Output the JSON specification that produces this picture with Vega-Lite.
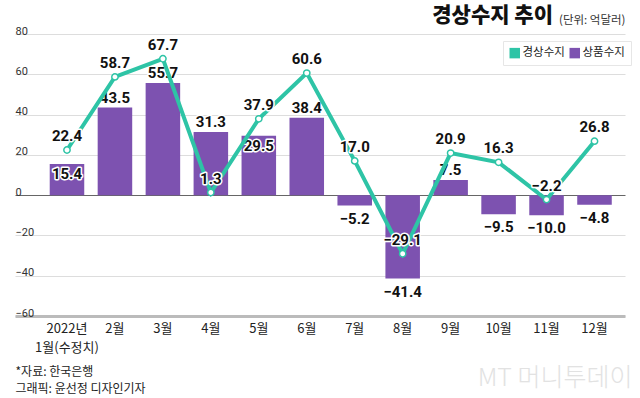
{
  "$schema": "https://vega.github.io/schema/vega-lite/v6.json",
  "autosize": {"type": "none"},
  "width": 610,
  "height": 282,
  "padding": {"left": 15, "top": 34, "right": 15, "bottom": 82},
  "background": "white",
  "config": {"view": {"stroke": null}, "font": "Noto Sans CJK KR"},
  "title": {
    "text": "경상수지 추이",
    "anchor": "end",
    "frame": "group",
    "fontSize": 21,
    "fontWeight": 900,
    "font": "Noto Sans CJK KR",
    "color": "#111",
    "dx": -72,
    "dy": 16,
    "offset": 4
  },
  "data": {
    "values": [
      {"month": "2022년|1월(수정치)", "current": 22.4, "goods": 15.4},
      {"month": "2월", "current": 58.7, "goods": 43.5},
      {"month": "3월", "current": 67.7, "goods": 55.7},
      {"month": "4월", "current": 1.3, "goods": 31.3},
      {"month": "5월", "current": 37.9, "goods": 29.5},
      {"month": "6월", "current": 60.6, "goods": 38.4},
      {"month": "7월", "current": 17.0, "goods": -5.2},
      {"month": "8월", "current": -29.1, "goods": -41.4},
      {"month": "9월", "current": 20.9, "goods": 7.5},
      {"month": "10월", "current": 16.3, "goods": -9.5},
      {"month": "11월", "current": -2.2, "goods": -10.0},
      {"month": "12월", "current": 26.8, "goods": -4.8}
    ]
  },
  "encoding": {
    "x": {
      "field": "month",
      "type": "nominal",
      "sort": null,
      "scale": {"paddingInner": 0.28, "paddingOuter": 0.5, "align": 0.724},
      "axis": {
        "title": ["*자료: 한국은행", "그래픽: 윤선정 디자인기자"],
        "titleAnchor": "start",
        "titleAlign": "left",
        "titleX": 0,
        "titleY": 59,
        "titleBaseline": "alphabetic",
        "titleFontSize": 12,
        "titleFontWeight": "normal",
        "titleLineHeight": 17.5,
        "titleColor": "#222",
        "titleFont": "Noto Sans CJK KR",
        "labelAngle": 0,
        "labelFontSize": 13,
        "labelColor": "#222",
        "labelFont": "Noto Sans CJK KR",
        "labelPadding": 6,
        "labelBaseline": "top",
        "labelLineHeight": 19,
        "labelExpr": "split(datum.label, '|')",
        "ticks": false,
        "tickSize": 0,
        "domainColor": "#bbbbbb",
        "domainWidth": 3
      }
    }
  },
  "resolve": {"scale": {"y": "independent"}},
  "layer": [
    {
      "layer": [
        {
          "mark": {"type": "bar", "opacity": 1},
          "encoding": {
            "y": {
              "field": "goods",
              "type": "quantitative",
              "scale": {"domain": [-60, 80], "nice": false, "zero": false},
              "axis": {
                "values": [-60, -40, -20, 0, 20, 40, 60, 80],
                "title": "(단위: 억달러)",
                "titleAngle": 0,
                "titleX": 610,
                "titleY": -11,
                "titleAlign": "right",
                "titleBaseline": "alphabetic",
                "titleFontSize": 11.5,
                "titleFontWeight": "normal",
                "titleColor": "#333",
                "titleFont": "Noto Sans CJK KR",
                "domain": false,
                "ticks": false,
                "tickSize": 0,
                "labelAlign": "left",
                "labelBaseline": "alphabetic",
                "labelPadding": 0,
                "labelDy": -4,
                "labelFlush": false,
                "labelFontSize": 11,
                "labelColor": "#333",
                "labelFont": "Roboto, sans-serif",
                "grid": true,
                "gridColor": {"condition": {"test": "datum.value === 0", "value": "#666666"}, "value": "#dddddd"},
                "gridWidth": 1
              }
            },
            "color": {
              "datum": "상품수지",
              "type": "nominal",
              "scale": {"domain": ["경상수지", "상품수지"], "range": ["#2ec4a6", "#7d52b0"]},
              "legend": {
                "orient": "none",
                "legendX": 488,
                "legendY": 7,
                "direction": "horizontal",
                "title": null,
                "symbolType": "square",
                "symbolSize": 110,
                "symbolStrokeWidth": 0,
                "labelFontSize": 11.5,
                "labelFont": "Noto Sans CJK KR",
                "labelColor": "#222",
                "labelOffset": 2,
                "columnPadding": 4,
                "padding": 6,
                "strokeColor": "#e6e6e6",
                "fillColor": "white"
              }
            }
          }
        },
        {
          "transform": [{"filter": "datum.goods >= 0 && !(datum.current - datum.goods > 0 && datum.current - datum.goods < 10)"}],
          "mark": {"type": "text", "baseline": "bottom", "dy": -2, "fontSize": 15, "fontWeight": "bold", "font": "Roboto, sans-serif", "stroke": "white", "strokeWidth": 3, "strokeJoin": "round", "fill": "white"},
          "encoding": {"y": {"field": "goods", "type": "quantitative"}, "text": {"field": "goods", "format": ".1f"}}
        },
        {
          "transform": [{"filter": "datum.goods >= 0 && !(datum.current - datum.goods > 0 && datum.current - datum.goods < 10)"}],
          "mark": {"type": "text", "baseline": "bottom", "dy": -2, "fontSize": 15, "fontWeight": "bold", "font": "Roboto, sans-serif", "fill": "#111"},
          "encoding": {"y": {"field": "goods", "type": "quantitative"}, "text": {"field": "goods", "format": ".1f"}}
        },
        {
          "transform": [{"filter": "datum.goods >= 0 && datum.current - datum.goods > 0 && datum.current - datum.goods < 10"}],
          "mark": {"type": "text", "baseline": "top", "dy": 3, "fontSize": 15, "fontWeight": "bold", "font": "Roboto, sans-serif", "stroke": "white", "strokeWidth": 3, "strokeJoin": "round", "fill": "white"},
          "encoding": {"y": {"field": "goods", "type": "quantitative"}, "text": {"field": "goods", "format": ".1f"}}
        },
        {
          "transform": [{"filter": "datum.goods >= 0 && datum.current - datum.goods > 0 && datum.current - datum.goods < 10"}],
          "mark": {"type": "text", "baseline": "top", "dy": 3, "fontSize": 15, "fontWeight": "bold", "font": "Roboto, sans-serif", "fill": "#111"},
          "encoding": {"y": {"field": "goods", "type": "quantitative"}, "text": {"field": "goods", "format": ".1f"}}
        },
        {
          "transform": [{"filter": "datum.goods < 0"}],
          "mark": {"type": "text", "baseline": "top", "dy": 6, "fontSize": 15, "fontWeight": "bold", "font": "Roboto, sans-serif", "stroke": "white", "strokeWidth": 3, "strokeJoin": "round", "fill": "white"},
          "encoding": {"y": {"field": "goods", "type": "quantitative"}, "text": {"field": "goods", "format": ".1f"}}
        },
        {
          "transform": [{"filter": "datum.goods < 0"}],
          "mark": {"type": "text", "baseline": "top", "dy": 6, "fontSize": 15, "fontWeight": "bold", "font": "Roboto, sans-serif", "fill": "#111"},
          "encoding": {"y": {"field": "goods", "type": "quantitative"}, "text": {"field": "goods", "format": ".1f"}}
        },
        {
          "mark": {"type": "line", "strokeWidth": 4},
          "encoding": {
            "y": {"field": "current", "type": "quantitative"},
            "color": {"datum": "경상수지", "type": "nominal"}
          }
        },
        {
          "mark": {"type": "point", "filled": true, "fill": "white", "stroke": "#2ec4a6", "strokeWidth": 1.5, "size": 40, "opacity": 1},
          "encoding": {"y": {"field": "current", "type": "quantitative"}}
        },
        {
          "mark": {"type": "text", "baseline": "bottom", "dy": -6, "fontSize": 15, "fontWeight": "bold", "font": "Roboto, sans-serif", "stroke": "white", "strokeWidth": 3, "strokeJoin": "round", "fill": "white"},
          "encoding": {"y": {"field": "current", "type": "quantitative"}, "text": {"field": "current", "format": ".1f"}}
        },
        {
          "mark": {"type": "text", "baseline": "bottom", "dy": -6, "fontSize": 15, "fontWeight": "bold", "font": "Roboto, sans-serif", "fill": "#111"},
          "encoding": {"y": {"field": "current", "type": "quantitative"}, "text": {"field": "current", "format": ".1f"}}
        }
      ]
    },
    {
      "mark": {"type": "point", "opacity": 0},
      "encoding": {
        "y": {
          "field": "current",
          "type": "quantitative",
          "scale": {"domain": [-60, 80], "nice": false, "zero": false},
          "axis": {
            "orient": "right",
            "labels": false,
            "ticks": false,
            "domain": false,
            "grid": false,
            "title": "MT  머니투데이",
            "titleAngle": 0,
            "titleX": 7,
            "titleY": 351,
            "titleAlign": "right",
            "titleBaseline": "alphabetic",
            "titleFontSize": 25,
            "titleFontWeight": 300,
            "titleFont": "Noto Sans CJK KR",
            "titleColor": "#e2e2e2"
          }
        }
      }
    }
  ]
}
